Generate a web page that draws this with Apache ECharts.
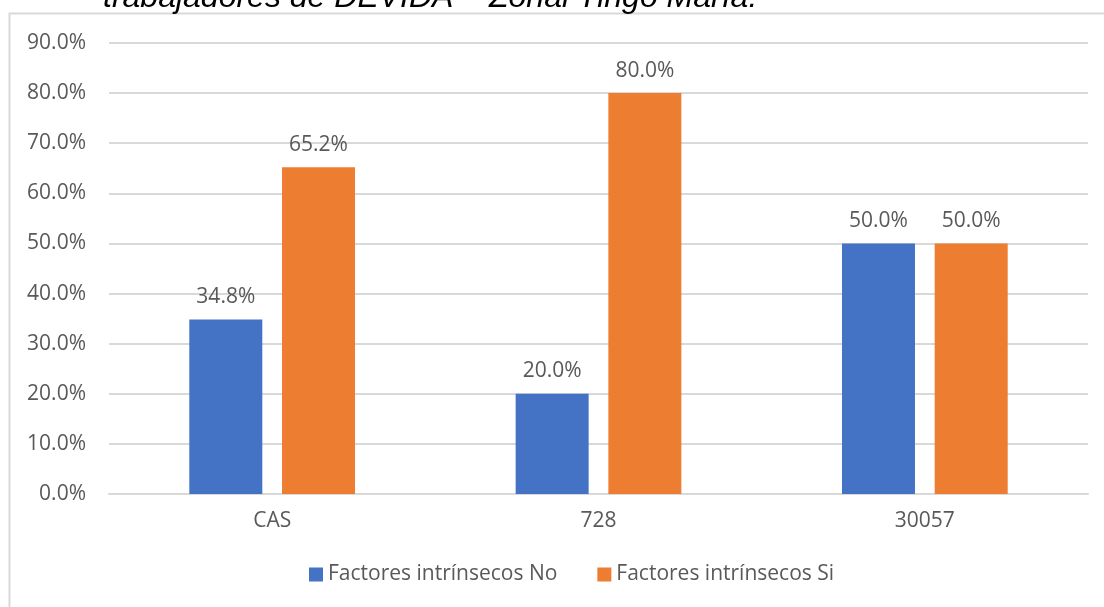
<!DOCTYPE html>
<html>
<head>
<meta charset="utf-8">
<script src="https://cdn.jsdelivr.net/npm/echarts@6/dist/echarts.min.js"></script>
<style>
  html, body { margin: 0; padding: 0; background: #ffffff; }
  #chart { width: 1104px; height: 607px; }
</style>
</head>
<body>
<div id="chart"></div>
<script>
// Contract type categories
const categories = ['CAS', '728', '30057'];

// Share of workers per contract type (%)
const seriesNames = ['Factores intrínsecos No', 'Factores intrínsecos Si'];
const valuesNo = [34.8, 20.0, 50.0];
const valuesSi = [65.2, 80.0, 50.0];

const titleText = 'trabajadores de DEVIDA – Zonal Tingo María.';

const colors = ['#4472C4', '#ED7D31'];
const textColor = '#595959';
const gridColor = '#d9d9d9';
const uiFont = '"Open Sans", "DejaVu Sans", sans-serif';
const uiSize = 21;

const chart = echarts.init(document.getElementById('chart'), null, { renderer: 'canvas' });

const labelCfg = {
  show: true,
  position: 'top',
  distance: 12,
  color: textColor,
  fontFamily: uiFont,
  fontSize: uiSize,
  formatter: p => p.value.toFixed(1) + '%'
};

chart.setOption({
  animation: false,
  backgroundColor: '#ffffff',
  color: colors,
  graphic: [
    {
      type: 'rect',
      silent: true,
      shape: { x: 9.5, y: 13.5, width: 1300, height: 800 },
      style: { fill: 'none', stroke: gridColor, lineWidth: 2 },
      z: -10
    },
    {
      type: 'text',
      silent: true,
      x: 103,
      y: 14,
      style: {
        text: titleText,
        fontFamily: '"Liberation Sans", Arial, sans-serif',
        fontStyle: 'italic',
        fontSize: 32,
        fill: '#000000',
        verticalAlign: 'bottom'
      }
    }
  ],
  grid: { left: 109, right: 16, top: 43, bottom: 113, containLabel: false },
  legend: {
    data: seriesNames,
    bottom: 17,
    left: 304,
    icon: 'rect',
    itemWidth: 14,
    itemHeight: 14,
    itemGap: 40,
    textStyle: { color: textColor, fontFamily: uiFont, fontSize: uiSize }
  },
  xAxis: {
    type: 'category',
    data: categories,
    axisLine: { show: true, lineStyle: { color: gridColor, width: 2 } },
    axisTick: { show: false },
    axisLabel: { color: textColor, fontFamily: uiFont, fontSize: uiSize, margin: 17 }
  },
  yAxis: {
    type: 'value',
    min: 0,
    max: 90,
    interval: 10,
    axisLine: { show: false },
    axisTick: { show: false },
    splitLine: { lineStyle: { color: gridColor, width: 2 } },
    axisLabel: {
      color: textColor,
      fontFamily: uiFont,
      fontSize: uiSize,
      margin: 23,
      formatter: v => v.toFixed(1) + '%'
    }
  },
  series: [
    {
      name: seriesNames[0],
      type: 'bar',
      data: valuesNo,
      barWidth: 73,
      barGap: '27%',
      label: labelCfg
    },
    {
      name: seriesNames[1],
      type: 'bar',
      data: valuesSi,
      barWidth: 73,
      barGap: '27%',
      label: labelCfg
    }
  ]
});
</script>
</body>
</html>
